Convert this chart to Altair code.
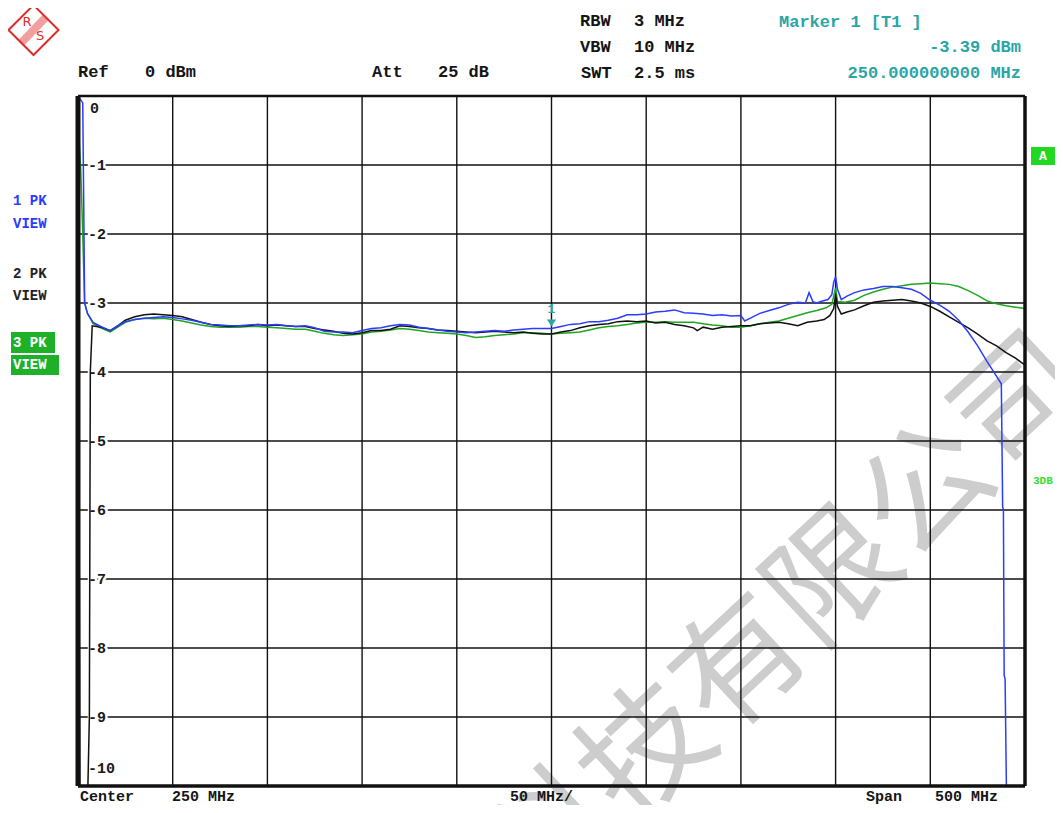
import altair as alt
import pandas as pd

# ---------------- data ----------------
x_ticks = [0, 50, 100, 150, 200, 250, 300, 350, 400, 450, 500]
y_ticks = [0, -1, -2, -3, -4, -5, -6, -7, -8, -9, -10]
y_tick_labels = ["0", "-1", "-2", "-3", "-4", "-5", "-6", "-7", "-8", "-9", "-10"]

# trace 1 (blue)
f_blue = [0, 2.5, 3, 3.5, 5, 8, 12, 17, 21, 25,
          30, 35, 40, 45, 50, 55, 60, 65, 70, 75,
          80, 85, 90, 95, 100, 105, 110, 115, 120, 125,
          130, 135, 140, 145, 150, 155, 160, 165, 170, 175,
          180, 185, 190, 195, 200, 205, 210, 215, 220, 225,
          230, 235, 240, 245, 250, 255, 260, 265, 270, 275,
          280, 285, 290, 295, 300, 305, 310, 315, 320, 325,
          330, 335, 340, 345, 350,
          352, 355, 360, 365, 370, 375, 380,
          384, 386, 388, 390, 393, 396, 398, 399, 400, 401, 403, 406,
          410, 415, 420, 425, 430, 435, 440, 445, 450, 455, 460, 465, 470, 475, 480,
          484, 487.5, 488.2, 488.6, 489, 489.5, 490.3]
v_blue = [0, -0.1, -1.5, -3.0, -3.15, -3.28, -3.34, -3.40, -3.33, -3.27,
          -3.24, -3.22, -3.21, -3.20, -3.21, -3.23, -3.25, -3.28, -3.31, -3.32,
          -3.33, -3.33, -3.32, -3.31, -3.32, -3.31, -3.33, -3.34, -3.33, -3.36,
          -3.41, -3.42, -3.42, -3.43, -3.40, -3.37, -3.36, -3.33, -3.31, -3.32,
          -3.35, -3.37, -3.39, -3.41, -3.42, -3.43, -3.42, -3.41, -3.40, -3.41,
          -3.39, -3.38, -3.37, -3.37, -3.37, -3.34, -3.31, -3.30, -3.27, -3.27,
          -3.25, -3.22, -3.17, -3.17, -3.16, -3.13, -3.12, -3.10, -3.14, -3.15,
          -3.16, -3.18, -3.17, -3.19, -3.18,
          -3.26, -3.22, -3.15, -3.11, -3.07, -3.02, -2.99,
          -3.00, -2.85, -2.98, -3.00, -2.97, -2.95, -2.88, -2.70, -2.62, -2.80, -2.95, -2.90,
          -2.85, -2.81, -2.79, -2.76, -2.76, -2.78, -2.80, -2.86, -2.96, -3.03, -3.12, -3.25, -3.42, -3.62, -3.85,
          -4.02, -4.17, -5.95, -6.0, -8.4, -8.45, -10.3]

# trace 2 (black)
f_black = [0, 1, 5, 6, 6.5, 7.5, 12, 17, 21, 25,
           30, 35, 40, 45, 50, 55, 60, 65, 70, 75,
           80, 85, 90, 95, 100, 105, 110, 115, 120, 125,
           130, 135, 140, 145, 150, 155, 160, 165, 170, 175,
           180, 185, 190, 195, 200, 205, 210, 215, 220, 225,
           230, 235, 240, 245, 250, 255, 260, 265, 270, 275,
           280, 285, 290, 295, 300, 305, 310, 315, 320, 325,
           327, 330, 335, 340, 345, 350, 355, 360, 365, 370, 375, 380, 385, 390,
           394, 397, 399, 400, 401, 403, 406,
           410, 415, 420, 425, 430, 435, 440, 445, 450, 455, 460, 465, 470, 475,
           480, 485, 490, 495, 500]
v_black = [0, -10.3, -10.3, -9.0, -4.0, -3.33, -3.35, -3.40, -3.33, -3.25,
           -3.20, -3.17, -3.16, -3.17, -3.18, -3.20, -3.24, -3.28, -3.31, -3.33,
           -3.34, -3.33, -3.33, -3.31, -3.33, -3.32, -3.33, -3.34, -3.34, -3.37,
           -3.39, -3.41, -3.44, -3.45, -3.43, -3.40, -3.40, -3.38, -3.33, -3.34,
           -3.36, -3.37, -3.39, -3.40, -3.41, -3.42, -3.43, -3.42, -3.41, -3.42,
           -3.43, -3.42, -3.44, -3.45, -3.45, -3.42, -3.40, -3.36, -3.33, -3.31,
           -3.30, -3.27, -3.26, -3.27, -3.26, -3.29, -3.28, -3.31, -3.33, -3.36,
           -3.40, -3.35, -3.38, -3.35, -3.34, -3.33, -3.33, -3.30, -3.29, -3.28, -3.30, -3.33, -3.28, -3.26,
           -3.24, -3.18, -3.08, -2.88, -3.05, -3.16, -3.13,
           -3.10, -3.04, -2.99, -2.97, -2.96, -2.95, -2.97, -3.00, -3.05, -3.12, -3.20, -3.28, -3.36, -3.45,
           -3.55, -3.62, -3.72, -3.80, -3.90]

# trace 3 (green)
f_green = [0, 1.5, 2.5, 3.5, 5, 8, 12, 17, 21, 25,
           30, 35, 40, 45, 50, 55, 60, 65, 70, 75,
           80, 85, 90, 95, 100, 105, 110, 115, 120, 125,
           130, 135, 140, 145, 150, 155, 160, 165, 170, 175,
           180, 185, 190, 195, 200, 205, 210, 215, 220, 225,
           230, 235, 240, 245, 250, 255, 260, 265, 270, 275,
           280, 285, 290, 295, 300, 305, 310, 315, 320, 325,
           330, 335, 340, 345, 350, 355, 360, 365, 370, 375,
           380, 385, 390, 395, 398, 400, 401, 405,
           410, 415, 420, 425, 430, 435, 440, 445, 450, 455, 460, 465, 470, 475,
           480, 485, 490, 495, 500]
v_green = [-0.35, -1.1, -2.0, -3.0, -3.15, -3.30, -3.36, -3.42, -3.35, -3.28,
           -3.24, -3.22, -3.23, -3.22, -3.24, -3.26, -3.29, -3.32, -3.34, -3.35,
           -3.35, -3.35, -3.34, -3.34, -3.35, -3.36, -3.37, -3.38, -3.38, -3.41,
           -3.44, -3.46, -3.47, -3.46, -3.45, -3.42, -3.41, -3.39, -3.37, -3.38,
           -3.40, -3.42, -3.43, -3.44, -3.45, -3.47, -3.50, -3.49, -3.47, -3.46,
           -3.45, -3.43, -3.43, -3.44, -3.45, -3.44, -3.43, -3.42, -3.39, -3.36,
           -3.34, -3.33, -3.31, -3.29, -3.28, -3.28, -3.27, -3.28, -3.28, -3.28,
           -3.30, -3.32, -3.33, -3.35, -3.35, -3.33, -3.30, -3.28, -3.26, -3.22,
           -3.18, -3.14, -3.11, -3.07, -3.02, -2.78, -2.98, -2.99,
           -2.96, -2.89, -2.84, -2.80, -2.77, -2.75, -2.73, -2.72, -2.71, -2.72, -2.73, -2.76, -2.82, -2.89,
           -2.97, -3.01, -3.04, -3.06, -3.08]

marker_f = [250]
marker_v = [-3.39]

# ---------------- layout ----------------
W, H = 947, 690
X0, Y0 = 78, 96  # page position of the plot origin
MONO = "Liberation Mono"
BLUE = "#2b3cff"
GREEN = "#1fa51f"
TEAL = "#2aa6a6"
RED = "#e02a2a"

xs = alt.Scale(domain=[0, 500], nice=False, zero=False)
ys = alt.Scale(domain=[-10, 0], nice=False, zero=False)


def X(field="f"):
    return alt.X(f"{field}:Q", scale=xs, axis=None)


def Y(field="v"):
    return alt.Y(f"{field}:Q", scale=ys, axis=None)


def one():
    return alt.Chart(pd.DataFrame({"t": [""]}))


def txt(s, px, py, color="#151515", size=17, align="left", weight="bold",
        font=MONO, angle=None):
    kw = dict(align=align, baseline="middle", font=font, fontSize=size,
              fontWeight=weight, color=color)
    if angle is not None:
        kw["angle"] = angle
    return alt.Chart(pd.DataFrame({"t": [s]})).mark_text(**kw).encode(
        text="t:N", x=alt.value(px - X0), y=alt.value(py - Y0))


def box(x1, y1, x2, y2, color):
    return one().mark_rect(color=color).encode(
        x=alt.value(x1 - X0), x2=alt.value(x2 - X0),
        y=alt.value(y1 - Y0), y2=alt.value(y2 - Y0))


layers = []

# watermark (under the grid)
layers.append(txt("科技有限公司", 790, 624, color="#cdcdcd", size=128,
                  align="center", weight="normal", font="Noto Sans CJK SC",
                  angle=317))

# grid
gx = pd.DataFrame({"f": x_ticks})
gy = pd.DataFrame({"v": y_ticks})
layers.append(alt.Chart(gx).mark_rule(color="#111", strokeWidth=1.4).encode(x=X()))
layers.append(alt.Chart(gy).mark_rule(color="#111", strokeWidth=1.4).encode(y=Y()))

# y tick labels inside the plot
lab = pd.DataFrame({"v": y_ticks, "t": y_tick_labels})
mid = lab[(lab.v < 0) & (lab.v > -10)]
top = lab[lab.v == 0]
bot = lab[lab.v == -10]
for df, xx, dy in [(mid, 10, 0), (top, 12, 12), (bot, 10, -18)]:
    for halo in (True, False):
        kw = dict(align="left", baseline="middle", font=MONO, fontSize=15,
                  fontWeight="bold", dy=dy)
        if halo:
            kw.update(color="white", stroke="white", strokeWidth=5)
        else:
            kw.update(color="#1a1a1a")
        layers.append(alt.Chart(df).mark_text(**kw).encode(
            y=Y(), x=alt.value(xx), text="t:N"))

# traces
for fl, vl, col in [(f_green, v_green, GREEN), (f_black, v_black, "#111"),
                    (f_blue, v_blue, BLUE)]:
    d = pd.DataFrame({"f": fl, "v": vl})
    layers.append(alt.Chart(d).mark_line(color=col, strokeWidth=1.5, clip=True)
                  .encode(x=X(), y=Y(), order="f:Q"))

# marker 1
md = pd.DataFrame({"f": marker_f, "v": marker_v})
layers.append(alt.Chart(md).mark_point(
    shape="M-0.65,-1.5L0.65,-1.5L0,-0.5Z", size=196, filled=True, color=TEAL,
    opacity=1).encode(x=X(), y=Y()))
layers.append(alt.Chart(md).mark_text(
    text="1", font=MONO, fontSize=13, fontWeight="bold", color=TEAL, dy=-21
).encode(x=X(), y=Y()))

# frame
layers.append(alt.Chart(pd.DataFrame({"f": [0]})).mark_rule(
    color="#111", strokeWidth=5).encode(x=X()))
layers.append(alt.Chart(pd.DataFrame({"f": [500]})).mark_rule(
    color="#111", strokeWidth=3.5).encode(x=X()))
layers.append(alt.Chart(pd.DataFrame({"v": [0]})).mark_rule(
    color="#111", strokeWidth=2.5).encode(y=Y()))
layers.append(alt.Chart(pd.DataFrame({"v": [-10]})).mark_rule(
    color="#111", strokeWidth=3.5).encode(y=Y()))

# header texts
layers += [
    txt("Ref", 78, 72), txt("0 dBm", 145, 72),
    txt("Att", 372, 72), txt("25 dB", 438, 72),
    txt("RBW", 580, 21), txt("3 MHz", 634, 21),
    txt("VBW", 580, 47), txt("10 MHz", 634, 47),
    txt("SWT", 581, 73), txt("2.5 ms", 634, 73),
    txt("Marker 1 [T1 ]", 779, 22, color=TEAL),
    txt("-3.39 dBm", 1021, 47, color=TEAL, align="right"),
    txt("250.000000000 MHz", 1021, 73, color=TEAL, align="right"),
]

# bottom texts
BY = 796
BS = 15
layers += [
    txt("Center", 80, BY, size=BS), txt("250 MHz", 172, BY, size=BS),
    txt("50 MHz/", 510, BY, size=BS),
    txt("Span", 866, BY, size=BS), txt("500 MHz", 935, BY, size=BS),
]

# left trace labels
layers += [
    txt("1 PK", 13, 201, color=BLUE, size=14),
    txt("VIEW", 13, 224, color=BLUE, size=14),
    txt("2 PK", 13, 274, color="#222", size=14),
    txt("VIEW", 13, 296, color="#222", size=14),
    box(11, 332, 55, 353, "#1fb02a"),
    box(11, 355, 59, 375, "#1fb02a"),
    txt("3 PK", 13, 343, color="white", size=14),
    txt("VIEW", 13, 365, color="white", size=14),
]

# right side indicators
layers += [
    box(1031, 147, 1055, 165, "#22d822"),
    txt("A", 1043, 156, color="white", size=13, align="center"),
    txt("3DB", 1033, 481, color="#33e033", size=11),
]

# R&S logo
layers += [
    one().mark_point(shape="diamond", size=2500, filled=False, stroke=RED,
                     strokeWidth=2, opacity=1).encode(
        x=alt.value(33.5 - X0), y=alt.value(30 - Y0)),
    one().mark_rule(color=RED, strokeWidth=8, opacity=0.45).encode(
        x=alt.value(46 - X0), y=alt.value(17 - Y0),
        x2=alt.value(21 - X0), y2=alt.value(43 - Y0)),
    txt("R", 27, 22, color=RED, size=13, weight="normal", font="DejaVu Sans", align="center"),
    txt("S", 40, 36, color=RED, size=13, weight="normal", font="DejaVu Sans", align="center"),
]

chart = alt.layer(*layers).properties(
    width=W, height=H,
    padding={"left": 70, "top": 88, "right": 30, "bottom": 19},
    autosize=alt.AutoSizeParams(type="none"),
    background="white",
).configure_view(stroke=None)

chart.save("out.html", embed_options={"renderer": "svg", "actions": False})
